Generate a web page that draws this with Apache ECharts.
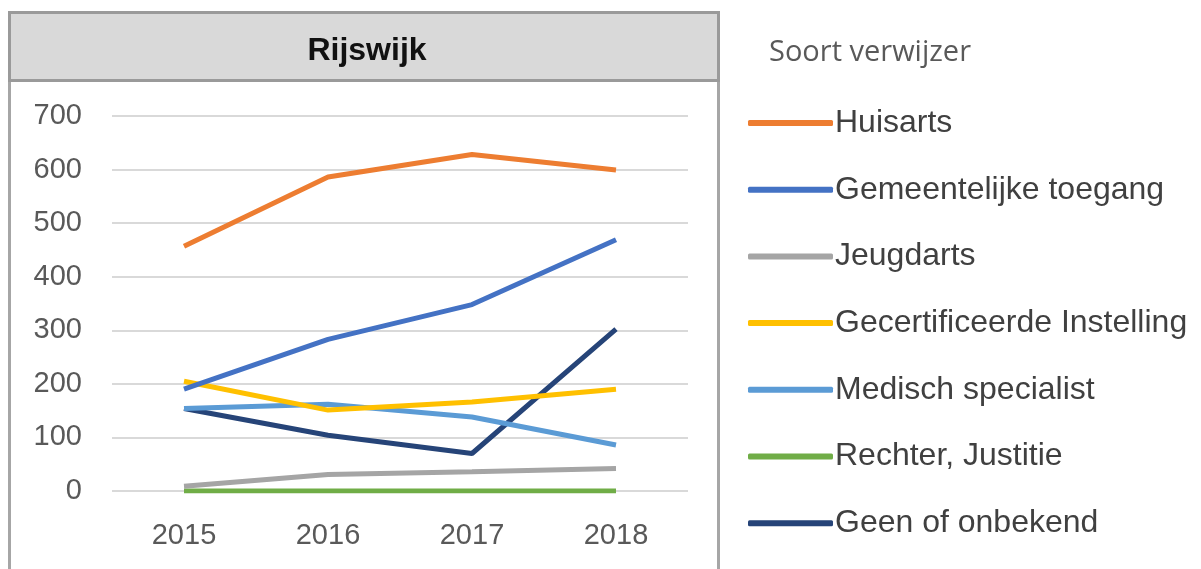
<!DOCTYPE html>
<html>
<head>
<meta charset="utf-8">
<script src="https://cdn.jsdelivr.net/npm/echarts@6/dist/echarts.min.js"></script>
<style>
  html, body { margin: 0; padding: 0; background: #fff; }
  #chart { width: 1201px; height: 569px; }
</style>
</head>
<body>
<div id="chart"></div>
<script>
var years = ['2015', '2016', '2017', '2018'];
var names = ['Huisarts', 'Gemeentelijke toegang', 'Jeugdarts', 'Gecertificeerde Instelling',
             'Medisch specialist', 'Rechter, Justitie', 'Geen of onbekend'];
var huisarts = [457, 586, 628, 599];
var gemeentelijk = [190, 283, 348, 469];
var jeugdarts = [9, 31, 36, 42];
var gecertificeerd = [205, 151, 166, 190];
var medisch = [154, 162, 138, 86];
var rechter = [0, 0, 0, 0];
var geen = [154, 104, 70, 302];
var colors = ['#ED7D31', '#4472C4', '#A5A5A5', '#FFC000', '#5B9BD5', '#70AD47', '#264478'];

var values = [huisarts, gemeentelijk, jeugdarts, gecertificeerd, medisch, rechter, geen];

var chart = echarts.init(document.getElementById('chart'));

var series = names.map(function (n, i) {
    return {
        name: n,
        type: 'line',
        symbol: 'none',
        z: 10 - i,
        lineStyle: { width: 5, color: colors[i] },
        itemStyle: { color: colors[i] },
        data: values[i]
    };
});

var option = {
    animation: false,
    title: [{
        text: 'Rijswijk',
        left: 362,
        top: 46,
        textAlign: 'center',
        textVerticalAlign: 'middle',
        textStyle: { fontFamily: 'Liberation Sans', fontWeight: 'bold', fontSize: 32, color: '#111' }
    }, {
        text: 'Soort verwijzer',
        left: 764,
        top: 33,
        textStyle: { fontFamily: 'Open Sans', fontWeight: 'normal', fontSize: 29, color: '#595959' }
    }],
    graphic: [{
        type: 'rect',
        shape: { x: 9.5, y: 12.5, width: 709, height: 600 },
        style: { fill: '#fff', stroke: '#a6a6a6', lineWidth: 3 },
        z: -10
    }, {
        type: 'rect',
        shape: { x: 9.5, y: 12.5, width: 709, height: 68 },
        style: { fill: '#d9d9d9', stroke: '#9a9a9a', lineWidth: 3 },
        z: -9
    }],
    legend: {
        orient: 'vertical',
        left: 743,
        top: 102,
        itemWidth: 85,
        itemHeight: 6,
        itemGap: 34.7,
        icon: 'roundRect',
        textStyle: { fontFamily: 'Liberation Sans', fontSize: 32, color: '#404040', lineHeight: 30, padding: [0, 0, 0, -3] },
        data: names
    },
    grid: { left: 112, right: 513, top: 116, bottom: 78 },
    xAxis: {
        type: 'category',
        data: years,
        axisLine: { show: false },
        axisTick: { show: false },
        axisLabel: { fontFamily: 'Liberation Sans', fontSize: 29, color: '#595959', margin: 30 }
    },
    yAxis: {
        type: 'value',
        min: 0,
        max: 700,
        interval: 100,
        axisLine: { show: false },
        axisTick: { show: false },
        splitLine: { lineStyle: { color: '#d9d9d9', width: 2 } },
        axisLabel: { fontFamily: 'Liberation Sans', fontSize: 29, color: '#595959', margin: 30 }
    },
    series: series
};
chart.setOption(option);
</script>
</body>
</html>
